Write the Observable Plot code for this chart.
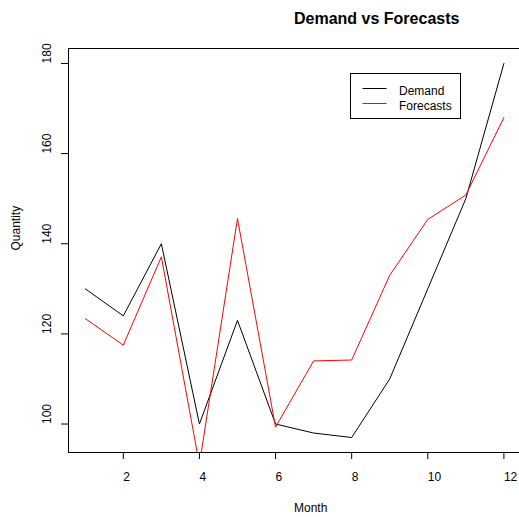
<!DOCTYPE html>
<html>
<head>
<meta charset="utf-8">
<script src="https://cdn.jsdelivr.net/npm/d3@7"></script>
<script src="https://cdn.jsdelivr.net/npm/@observablehq/plot@0.6"></script>
<style>
  html, body { margin: 0; padding: 0; background: #fff; overflow: hidden; }
  #chart { position: relative; width: 519px; height: 517px; }
  svg { font-family: "Liberation Sans", Arial, Helvetica, sans-serif; }
</style>
</head>
<body>
<div id="chart"></div>
<script>
const months = [1, 2, 3, 4, 5, 6, 7, 8, 9, 10, 11, 12];
const demand = [130, 124, 140, 100, 123, 100, 98, 97, 110, 130, 150, 180];
const forecasts = [123.4, 117.5, 137.1, 91, 145.6, 99.3, 114, 114.2, 133, 145.4, 150.8, 168];
const xTicks = [2, 4, 6, 8, 10, 12];
const yTicks = [100, 120, 140, 160, 180];
const seriesNames = ["Demand", "Forecasts"];
const seriesColors = ["#000000", "#ff0000"];
const title = "Demand vs Forecasts";
const xLabel = "Month";
const yLabel = "Quantity";

const rows = [];
months.forEach((m, i) => {
  rows.push({month: m, value: demand[i], series: seriesNames[0]});
  rows.push({month: m, value: forecasts[i], series: seriesNames[1]});
});

// R-style 4% axis expansion (y from demand only, as plot() was called with demand)
const xmin = d3.min(months), xmax = d3.max(months);
const xpad = (xmax - xmin) * 0.04;
const ymin = d3.min(demand), ymax = d3.max(demand);
const ypad = (ymax - ymin) * 0.04;

const chart = Plot.plot({
  width: 519,
  height: 517,
  marginLeft: 68,
  marginRight: 0,
  marginTop: 48,
  marginBottom: 65,
  style: {fontFamily: '"Liberation Sans", Arial, sans-serif', fontSize: "12px", color: "#000", background: "#fff"},
  x: {domain: [xmin - xpad, xmax + xpad - 0.03]},
  y: {domain: [ymin - ypad, ymax + ypad]},
  color: {domain: seriesNames, range: seriesColors},
  marks: [
    Plot.frame({anchor: "left", stroke: "#000"}),
    Plot.frame({anchor: "top", stroke: "#000"}),
    Plot.frame({anchor: "bottom", stroke: "#000"}),
    Plot.axisX({ticks: xTicks, tickSize: 7, tickPadding: 13, label: null, fontSize: 12, textAnchor: "start"}),
    Plot.axisY({ticks: yTicks, tickSize: 7, tickPadding: 11, tickRotate: -90, label: null, fontSize: 12, textAnchor: "start"}),
    Plot.line(rows, {x: "month", y: "value", z: "series", stroke: "series", strokeWidth: 1, clip: true}),
    Plot.text([title], {frameAnchor: "top", dy: -30, fontWeight: "bold", fontSize: 16, lineAnchor: "middle", textAnchor: "start"}),
    Plot.text([xLabel], {frameAnchor: "bottom", dy: 56, fontSize: 12, lineAnchor: "middle", textAnchor: "start"}),
    Plot.text([yLabel], {frameAnchor: "left", dx: -52, rotate: -90, fontSize: 12, lineAnchor: "middle", textAnchor: "start"})
  ]
});

document.getElementById("chart").appendChild(chart);

// Legend (R legend box, top-right inside plot)
const svg = d3.select(chart);
const lg = svg.append("g").attr("transform", "translate(350.5,73.5)");
lg.append("rect").attr("width", 110).attr("height", 45).attr("fill", "#fff").attr("stroke", "#000");
seriesNames.forEach((name, i) => {
  const y = 15 + i * 15;
  lg.append("line").attr("x1", 12).attr("x2", 36).attr("y1", y).attr("y2", y)
    .attr("stroke", seriesColors[i]).attr("stroke-width", 1);
  lg.append("text").attr("x", 48.5).attr("y", y + 6.5)
    .attr("text-anchor", "start").attr("font-size", 12).attr("fill", "#000").text(name);
});
</script>
</body>
</html>
